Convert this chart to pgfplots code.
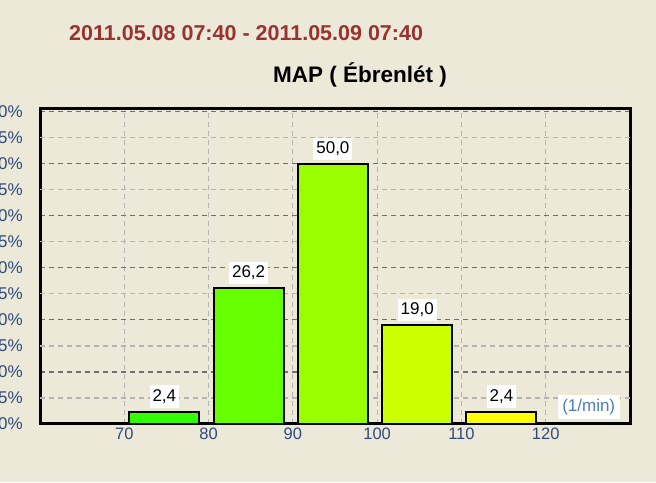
\documentclass[border=0pt]{standalone}
\usepackage{pgfplots}
\pgfplotsset{compat=1.18}
\usepackage{fontspec}
\setmainfont{Liberation Sans}
\definecolor{bg}{HTML}{ECE9D8}
\definecolor{titlered}{HTML}{993333}
\definecolor{ticklab}{HTML}{2E4A7D}
\definecolor{unitblue}{HTML}{4F7FB8}
\definecolor{griddark}{HTML}{707070}
\definecolor{gridlight}{HTML}{B4B4B4}
\definecolor{c1}{HTML}{33FF00}
\definecolor{c2}{HTML}{66FF00}
\definecolor{c3}{HTML}{99FF00}
\definecolor{c4}{HTML}{CCFF00}
\definecolor{c5}{HTML}{FFFF00}
\begin{document}
\begin{tikzpicture}[x=1pt,y=1pt]
\path[use as bounding box, fill=bg] (0,0) rectangle (656,482);
\node[anchor=west, text=titlered, inner sep=0pt, font=\fontsize{21.5}{24}\bfseries\selectfont] at (69,449) {2011.05.08 07:40 - 2011.05.09 07:40};
\node[anchor=west, text=black, inner sep=0pt, font=\fontsize{22.5}{25}\bfseries\selectfont] at (273,407) {MAP ( Ébrenlét )};
\begin{axis}[
  at={(40pt,58pt)}, anchor=south west,
  scale only axis, width=590pt, height=315.5pt,
  xmin=60, xmax=130, ymin=0, ymax=60.6,
  axis background/.style={fill=bg},
  axis line style={line width=3pt, black},
  xtick={70,80,...,120},
  ytick={0,10,...,60},
  extra y ticks={5,15,...,55},
  extra y tick style={major grid style={gridlight, line width=1.2pt, dash pattern=on 5pt off 4pt}},
  major tick length=0pt,
  xmajorgrids, ymajorgrids,
  major grid style={griddark, line width=1.2pt, dash pattern=on 5pt off 4pt},
  x grid style={gridlight, line width=1.2pt, dash pattern=on 5pt off 4pt},
  /pgf/number format/assume math mode=true,
  yticklabel={\pgfmathprintnumber{\tick}\%},
  yticklabel style={anchor=east, inner sep=0pt, xshift=-17pt, text=ticklab, font=\fontsize{17}{19}\selectfont},
  xticklabel style={anchor=north, inner sep=0pt, yshift=-4pt, text=ticklab, font=\fontsize{16.5}{19}\selectfont},
  bar width=8.3, 
  nodes near coords={\pgfmathprintnumber[use comma, fixed, fixed zerofill, precision=1, assume math mode=true]{\pgfplotspointmeta}},
  every node near coord/.append style={anchor=south, yshift=3pt, fill=white, text=black, inner xsep=3pt, inner ysep=4pt, font=\fontsize{17}{19}\selectfont},
]
\addplot[ybar, bar shift=0pt, fill=c1, draw=black, line width=2pt] coordinates {(74.75,2.4)};
\addplot[ybar, bar shift=0pt, fill=c2, draw=black, line width=2pt] coordinates {(84.75,26.2)};
\addplot[ybar, bar shift=0pt, fill=c3, draw=black, line width=2pt] coordinates {(94.75,50.0)};
\addplot[ybar, bar shift=0pt, fill=c4, draw=black, line width=2pt] coordinates {(104.75,19.0)};
\addplot[ybar, bar shift=0pt, fill=c5, draw=black, line width=2pt] coordinates {(114.75,2.4)};
\node[fill=white, text=unitblue, inner xsep=4.5pt, inner ysep=4pt, font=\fontsize{17}{19}\selectfont] at (axis cs:125.1,3.2) {(1/min)};
\end{axis}
\end{tikzpicture}
\end{document}
